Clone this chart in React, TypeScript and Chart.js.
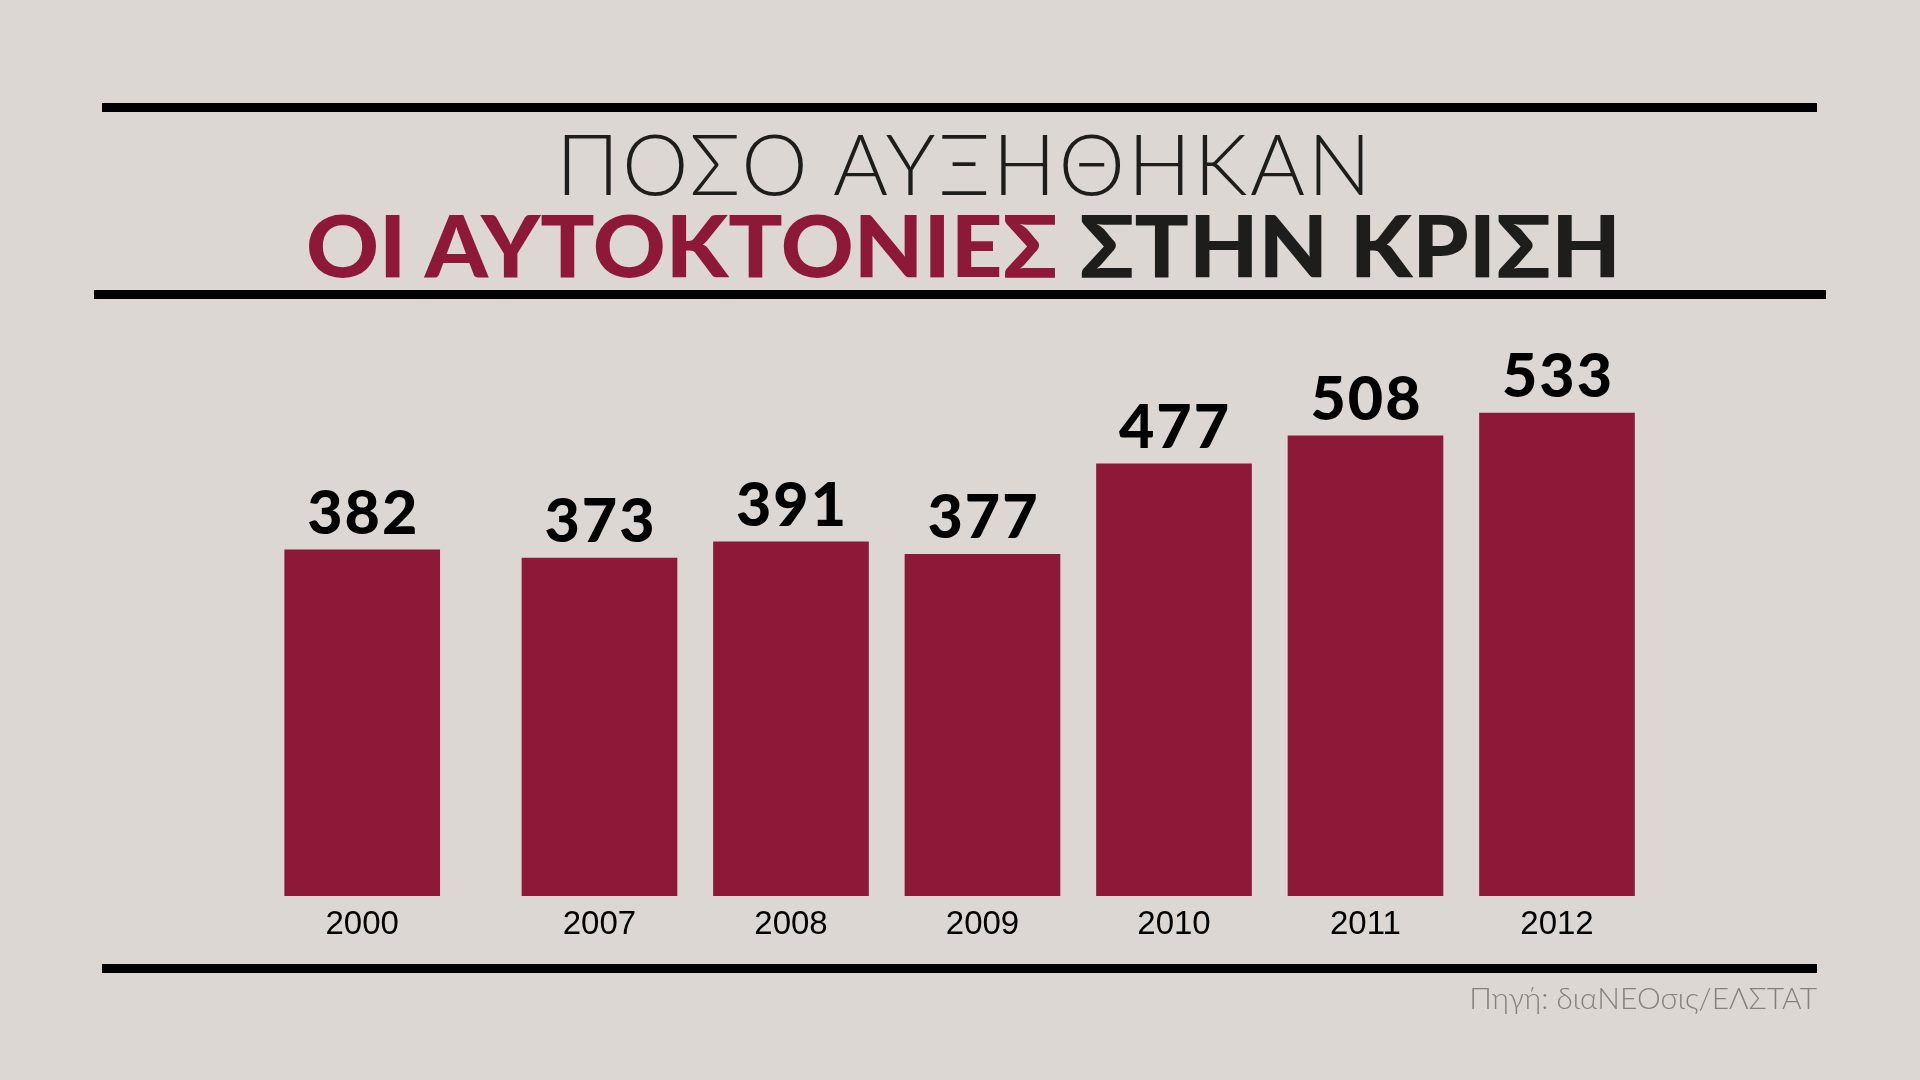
import React, { useEffect, useRef } from "react";
import { Chart, registerables } from "chart.js";

Chart.register(...registerables);

// ---- data ----
const years: string[] = ["2000", "2007", "2008", "2009", "2010", "2011", "2012"];
const suicides: number[] = [382, 373, 391, 377, 477, 508, 533];
const titleLine1 = "ΠΟΣΟ ΑΥΞΗΘΗΚΑΝ";
const titleRed = "ΟΙ ΑΥΤΟΚΤΟΝΙΕΣ";
const titleBlack = "ΣΤΗΝ ΚΡΙΣΗ";
const sourceText = "Πηγή: διαΝΕΟσις/ΕΛΣΤΑΤ";

// ---- layout / style ----
const BG = "#DCD7D3";
const CRIMSON = "#8E1838";
const INK = "#1D1D1B";
const LEAD_GAP = 0.239; // extra slot gap after the first (2000) bar

function slotPositions(n: number): number[] {
  const out: number[] = [];
  for (let i = 0; i < n; i++) out.push(i === 0 ? 0 : i + LEAD_GAP);
  return out;
}

function measure(text: string, font: string): number {
  const c = document.createElement("canvas").getContext("2d")!;
  c.font = font;
  return c.measureText(text).width;
}

const valueLabels = {
  id: "valueLabels",
  afterDatasetsDraw(chart: any) {
    const ctx = chart.ctx;
    const meta = chart.getDatasetMeta(0);
    const data = chart.data.datasets[0].data as any[];
    ctx.save();
    ctx.font = "900 61px Lato, 'DejaVu Sans', sans-serif";
    (ctx as any).letterSpacing = "2px";
    ctx.fillStyle = "#000000";
    ctx.textAlign = "center";
    ctx.textBaseline = "alphabetic";
    meta.data.forEach((bar: any, i: number) => {
      ctx.fillText(String(data[i].y), bar.x + 1, bar.y - 16);
    });
    ctx.restore();
  },
};

export default function App() {
  const canvasRef = useRef<HTMLCanvasElement | null>(null);

  useEffect(() => {
    if (!canvasRef.current) return;
    const pos = slotPositions(years.length);
    const chart = new Chart(canvasRef.current, {
      type: "bar",
      data: {
        datasets: [
          {
            data: suicides.map((v, i) => ({ x: pos[i], y: v })),
            backgroundColor: CRIMSON,
            borderWidth: 0,
            barThickness: 155,
          } as any,
        ],
      },
      options: {
        responsive: false,
        animation: false,
        devicePixelRatio: 1,
        layout: { padding: { left: 170.7, right: 171.5, top: 352.4, bottom: 0 } },
        plugins: { legend: { display: false }, tooltip: { enabled: false } },
        scales: {
          x: {
            type: "linear",
            offset: false,
            min: -1,
            max: pos[pos.length - 1] + 1,
            grid: { display: false, offset: false },
            border: { display: false },
            afterFit: (scale: any) => {
              scale.height = 184;
            },
            afterBuildTicks: (scale: any) => {
              scale.ticks = pos.map((v) => ({ value: v }));
            },
            ticks: {
              autoSkip: false,
              maxRotation: 0,
              minRotation: 0,
              padding: 1,
              color: "#000000",
              font: { family: "'Liberation Sans', Arial, sans-serif", size: 33 },
              callback: (_v: any, i: number) => years[i],
            },
          },
          y: {
            display: false,
            min: 0,
            max: 600,
          },
        },
      },
      plugins: [valueLabels],
    });
    return () => chart.destroy();
  }, []);

  const f1 = "300 84px Lato";
  const w1 = measure(titleLine1, f1);
  const ls1 = (818 - w1) / (titleLine1.length - 1);
  const f2 = "900 85px Lato";
  const w2 = measure(titleRed + " " + titleBlack, f2);
  const sx2 = 1318 / w2;

  const line = (x1: number, x2: number, y: number, h: number) => (
    <div
      style={{
        position: "absolute",
        left: x1,
        top: y,
        width: x2 - x1,
        height: h,
        background: "#000000",
      }}
    />
  );

  return (
    <div
      style={{
        position: "fixed",
        left: 0,
        top: 0,
        width: 1920,
        height: 1080,
        background: BG,
        overflow: "hidden",
      }}
    >
      <canvas
        ref={canvasRef}
        width={1920}
        height={1080}
        style={{ position: "absolute", left: 0, top: 0, width: 1920, height: 1080 }}
      />
      {line(102, 1817, 103, 9)}
      {line(94, 1826, 290, 9)}
      {line(102, 1817, 964, 9)}
      <div
        style={{
          position: "absolute",
          left: 0,
          width: 1927,
          top: 120.5,
          textAlign: "center",
          font: "300 84px Lato, 'DejaVu Sans', sans-serif",
          lineHeight: "84px",
          color: INK,
          whiteSpace: "nowrap",
        }}
      >
        <span style={{ letterSpacing: ls1, marginRight: -ls1 }}>{titleLine1}</span>
      </div>
      <div
        style={{
          position: "absolute",
          left: 0,
          width: 1927,
          top: 201.6,
          textAlign: "center",
          font: "900 85px Lato, 'DejaVu Sans', sans-serif",
          lineHeight: "85px",
          whiteSpace: "nowrap",
          transform: `scaleX(${sx2})`,
          transformOrigin: "963.5px 50%",
        }}
      >
        <span style={{ color: CRIMSON }}>{titleRed}</span>
        <span style={{ color: INK }}> {titleBlack}</span>
      </div>
      <div
        style={{
          position: "absolute",
          right: 1920 - 1817,
          top: 982,
          font: "300 30px Lato, 'DejaVu Sans', sans-serif",
          lineHeight: "30px",
          color: "#86807A",
          whiteSpace: "nowrap",
        }}
      >
        {sourceText}
      </div>
    </div>
  );
}
